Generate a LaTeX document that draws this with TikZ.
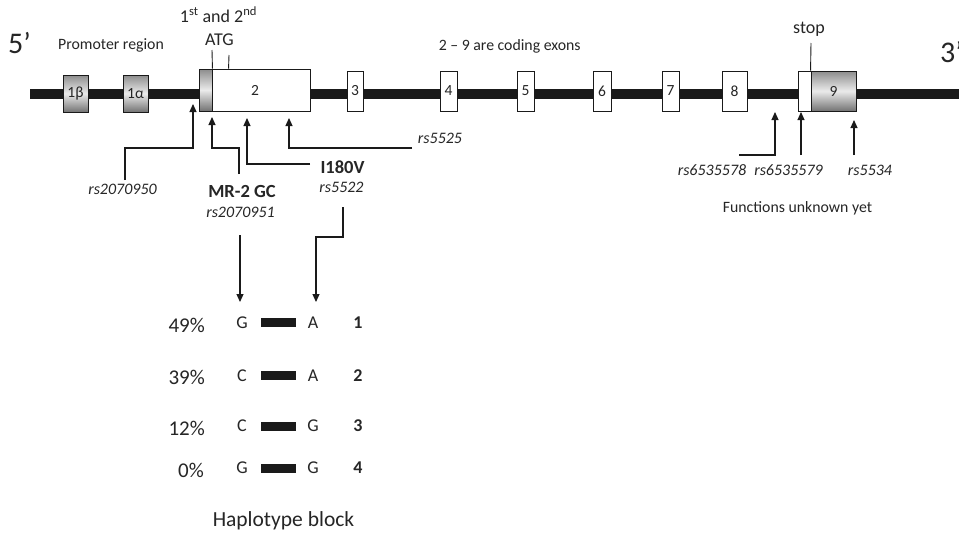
\documentclass[tikz,border=0pt]{standalone}
\usepackage{fontspec}
\setmainfont{Carlito}
\usetikzlibrary{arrows.meta}
\definecolor{ink}{HTML}{1A1A1A}
\definecolor{txt}{HTML}{262626}
\newcommand{\fs}[1]{\fontsize{#1}{#1}\selectfont}
\begin{document}
\begin{tikzpicture}[x=1pt,y=-1pt,
  exon/.style={draw=ink, line width=0.9pt, fill=white, inner sep=0pt, font=\fs{15.5}, text=txt},
  gexon/.style={exon, top color=black!45, bottom color=black!55, middle color=black!8},
  lbl/.style={text=txt, inner sep=0pt, anchor=base, font=\fs{15.8}},
  rs/.style={lbl, font=\fs{16}\itshape},
  bl/.style={lbl, font=\fs{18.5}\bfseries},
  arr/.style={draw=ink, line width=1.1pt, -{Triangle[length=8pt,width=7pt]}},
  tick/.style={draw=ink, line width=0.9pt},
  hbar/.style={fill=ink, draw=none, minimum width=35pt, minimum height=9pt, inner sep=0pt},
  pct/.style={lbl, anchor=base east, font=\fs{21}},
  nuc/.style={lbl, font=\fs{18}},
  hnum/.style={lbl, font=\fs{18}\bfseries}]
\useasboundingbox (0,0) rectangle (959,533);
\clip (0,0) rectangle (959,533);
\fill[white] (0,0) rectangle (959,533);
% main line
\coordinate (L) at (30,94);
\coordinate (R) at (970,94);
\draw[ink, line width=10pt] (L) -- (R);
% exons
\node[gexon, minimum width=25pt, minimum height=37pt] (e1b) at (75.5,93.5) {1β};
\node[gexon, minimum width=25pt, minimum height=37pt] (e1a) at (135.5,93.5) {1α};
\node[exon, minimum width=98pt, minimum height=42pt] (e2) at (261,90) {};
\node[gexon, minimum width=13pt, minimum height=42pt] (e2g) at (205.5,90) {};
\node[lbl, font=\fs{15.5}] at (255,95) {2};
\node[exon, minimum width=16pt, minimum height=40pt] (e3) at (355,91) {3};
\node[exon, minimum width=17pt, minimum height=40pt] (e4) at (448.5,91) {4};
\node[exon, minimum width=17pt, minimum height=40pt] (e5) at (525.5,91) {5};
\node[exon, minimum width=18pt, minimum height=40pt] (e6) at (602,91) {6};
\node[exon, minimum width=17pt, minimum height=40pt] (e7) at (670.5,91) {7};
\node[exon, minimum width=25pt, minimum height=40pt] (e8) at (734.5,91) {8};
\node[exon, minimum width=13pt, minimum height=40pt] (e9w) at (804.5,91) {};
\node[gexon, minimum width=45pt, minimum height=40pt] (e9) at (833.5,91) {9};
% top texts
\node[lbl, anchor=base west, font=\fs{30}] (five) at (8,53) {5’};
\node[lbl, anchor=base west, font=\fs{30}] (three) at (940,62) {3’};
\node[lbl] (prom) at (111,49) {Promoter region};
\node[lbl, font=\fs{18}] (atg1) at (218.5,22) {1\textsuperscript{st} and 2\textsuperscript{nd}};
\node[lbl, font=\fs{18}] (atg) at (219.5,45) {ATG};
\node[lbl] (coding) at (509.7,50) {2 – 9 are coding exons};
\node[lbl, font=\fs{18}] (stop) at (809,33) {stop};
\coordinate (a1) at (212,50);
\coordinate (a2) at (229,55);
\coordinate (s1) at (811,43);
\draw[tick] (e2g.north east) -- (a1);
\draw[tick] (e2.north west) ++(17,0) -- (a2);
\draw[tick] (e9.north west) -- (s1);
% SNP labels
\node[rs] (r1) at (122.5,194) {rs2070950};
\node[bl] (mr) at (242,197) {MR-2 GC};
\node[rs] (r2) at (240.5,217) {rs2070951};
\node[bl] (iv) at (342.5,173) {I180V};
\node[rs] (r3) at (341.5,192) {rs5522};
\node[rs] (r4) at (440,143) {rs5525};
\node[rs] (r5) at (712,175) {rs6535578};
\node[rs] (r6) at (788.5,175) {rs6535579};
\node[rs] (r7) at (870,175) {rs5534};
\node[lbl] (fu) at (797.5,212) {Functions unknown yet};
% arrow tips
\coordinate (t1) at (193,104);
\coordinate (t2) at (212,117);
\coordinate (t3) at (247,118);
\coordinate (t4) at (289,118);
\coordinate (t5) at (775,112);
\coordinate (t6) at (801,112);
\coordinate (t7) at (854,120);
\draw[arr] (125,180) -- (125,148) -- (193,148) -- (t1);
\draw[arr] (239,174) -- (239,148) -- (212,148) -- (t2);
\draw[arr] (310,164) -- (247,164) -- (t3);
\draw[arr] (412,148) -- (289,148) -- (t4);
\draw[arr] (739,155) -- (775,155) -- (t5);
\draw[arr] (801,155) -- (t6);
\draw[arr] (854,155) -- (t7);
% haplotype block
\node[nuc] (g1) at (242,328) {G};
\node[nuc] (a1n) at (313,328) {A};
\node[nuc] (g2) at (242,381) {C};
\node[nuc] (a2n) at (313,381) {A};
\node[nuc] (g3) at (242,431) {C};
\node[nuc] (a3n) at (313,431) {G};
\node[nuc] (g4) at (242,473) {G};
\node[nuc] (a4n) at (313,473) {G};
\draw[arr] (240,235) -- (240,302);
\draw[arr] (343,207) -- (343,237) -- (316,237) -- (316,302);
\node[hbar] (b1) at (278.5,322.5) {};
\node[hbar] (b2) at (278.5,375) {};
\node[hbar] (b3) at (278.5,426) {};
\node[hbar] (b4) at (278.5,468) {};
\node[pct] (p1) at (205,332) {49\%};
\node[pct] (p2) at (205,384) {39\%};
\node[pct] (p3) at (205,435) {12\%};
\node[pct] (p4) at (204,477) {0\%};
\node[hnum] (n1) at (358,328) {1};
\node[hnum] (n2) at (358,381) {2};
\node[hnum] (n3) at (358,431) {3};
\node[hnum] (n4) at (358,473) {4};
\node[lbl, font=\fs{21.5}] (hb) at (283.5,526) {Haplotype block};
\end{tikzpicture}
\end{document}
